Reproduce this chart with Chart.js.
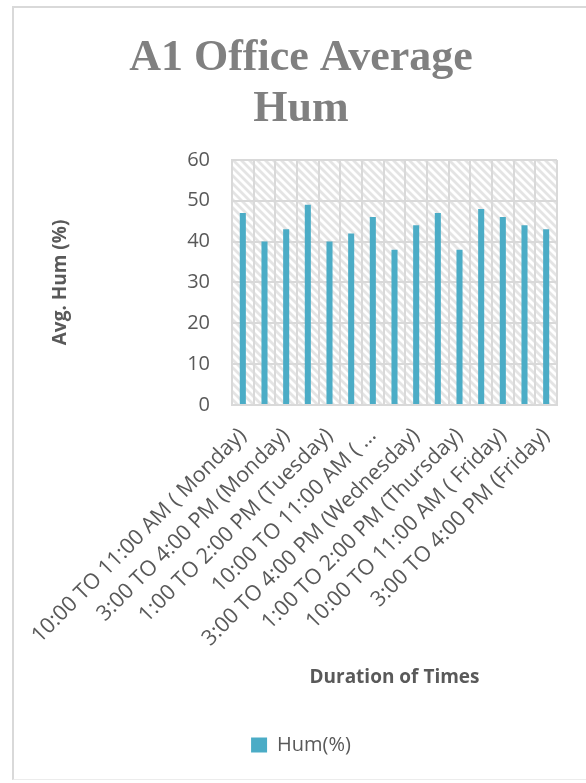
<!DOCTYPE html>
<html>
<head>
<meta charset="utf-8">
<script src="https://cdn.jsdelivr.net/npm/chart.js@4/dist/chart.umd.min.js"></script>
<style>
  html, body { margin: 0; padding: 0; background: #ffffff; overflow: hidden; }
  #frame {
    position: absolute; left: 12px; top: 6px; width: 620px; height: 774px;
    border-left: 2px solid #D9D9D9; border-top: 2px solid #D9D9D9;
    border-bottom: 1px solid #ECECEC; box-sizing: border-box;
  }
  #chart { position: absolute; left: 0; top: 0; }
</style>
</head>
<body>
<div id="frame"></div>
<canvas id="chart" width="586" height="783"></canvas>
<script>
// Time slots over the week (one bar each)
const timeSlots = [
  "10:00 TO 11:00 AM ( Monday)",
  "1:00 TO 2:00 PM (Monday)",
  "3:00 TO 4:00 PM (Monday)",
  "10:00 TO 11:00 AM ( Tuesday)",
  "1:00 TO 2:00 PM (Tuesday)",
  "3:00 TO 4:00 PM (Tuesday)",
  "10:00 TO 11:00 AM ( Wednesday)",
  "1:00 TO 2:00 PM (Wednesday)",
  "3:00 TO 4:00 PM (Wednesday)",
  "10:00 TO 11:00 AM ( Thursday)",
  "1:00 TO 2:00 PM (Thursday)",
  "3:00 TO 4:00 PM (Thursday)",
  "10:00 TO 11:00 AM ( Friday)",
  "1:00 TO 2:00 PM (Friday)",
  "3:00 TO 4:00 PM (Friday)"
];

// Average humidity (%) per slot
const humValues = [47, 40, 43, 49, 40, 42, 46, 38, 44, 47, 38, 48, 46, 44, 43];

// Value axis ticks
const yTicks = [0, 10, 20, 30, 40, 50, 60];

const seriesName = "Hum(%)";
const chartTitle = ["A1 Office Average", "Hum"];
const xTitle = "Duration of Times";
const yTitle = "Avg. Hum (%)";

const BAR = "#4BACC6";
const GRID = "#D9D9D9";
const TEXT = "#595959";

// Light downward-diagonal hatch for the plot area
function makeHatch() {
  const n = 8;
  const c = document.createElement("canvas");
  c.width = n; c.height = n;
  const g = c.getContext("2d");
  const img = g.createImageData(n, n);
  for (let y = 0; y < n; y++) {
    for (let x = 0; x < n; x++) {
      const d = ((x - y) % n + n) % n;
      let v = 255;
      if (d === 0 || d === 1 || d === 2) v = 228;
      else if (d === 3 || d === 7) v = 242;
      const i = (y * n + x) * 4;
      img.data[i] = v; img.data[i + 1] = v; img.data[i + 2] = v; img.data[i + 3] = 255;
    }
  }
  g.putImageData(img, 0, 0);
  return c;
}

const plotBackground = {
  id: "plotBackground",
  beforeDraw(chart) {
    const { ctx, chartArea: a } = chart;
    ctx.save();
    ctx.fillStyle = ctx.createPattern(makeHatch(), "repeat");
    ctx.fillRect(a.left, a.top, a.right - a.left, a.bottom - a.top);
    ctx.restore();
  }
};

new Chart(document.getElementById("chart"), {
  type: "bar",
  data: {
    labels: timeSlots,
    datasets: [{
      label: seriesName,
      data: humValues,
      backgroundColor: BAR,
      borderWidth: 0,
      categoryPercentage: 1,
      barPercentage: 0.28
    }]
  },
  options: {
    responsive: false,
    animation: false,
    events: [],
    layout: { padding: { left: 16, right: 0, top: 34, bottom: 18 } },
    plugins: {
      tooltip: { enabled: false },
      title: {
        display: true,
        text: chartTitle,
        color: "#808080",
        font: { family: "Liberation Serif", size: 44, weight: "bold", lineHeight: 1.14 },
        padding: { top: 0, bottom: 25.6 }
      },
      legend: {
        display: true,
        position: "bottom",
        labels: {
          color: TEXT,
          font: { family: "Open Sans", size: 20 },
          boxWidth: 16,
          boxHeight: 15,
          padding: 10
        }
      }
    },
    scales: {
      x: {
        grid: { display: true, color: GRID, lineWidth: 2, drawTicks: false, offset: true },
        border: { display: true, color: GRID, width: 2 },
        ticks: {
          color: TEXT,
          font: { family: "Open Sans", size: 21.5 },
          autoSkip: false,
          minRotation: 45,
          maxRotation: 45,
          padding: 18,
          callback(value, index) {
            if (index % 2) return "";
            const t = this.getLabelForValue(value);
            return t.length > 28 ? t.slice(0, 20) + "…" : t;
          }
        },
        title: {
          display: true,
          text: xTitle,
          color: TEXT,
          font: { family: "Open Sans", size: 19, weight: "bold", lineHeight: 1.2 },
          padding: { top: 0, bottom: 36 }
        },
        afterFit(scale) { scale.height = 320; }
      },
      y: {
        min: 0,
        max: 60,
        afterBuildTicks(scale) { scale.ticks = yTicks.map(v => ({ value: v })); },
        grid: { color: GRID, lineWidth: 2, drawTicks: false },
        border: { display: true, color: GRID, width: 2 },
        ticks: {
          color: TEXT,
          font: { family: "Open Sans", size: 20 },
          padding: 22
        },
        title: {
          display: true,
          text: yTitle,
          color: TEXT,
          font: { family: "Open Sans", size: 19, weight: "bold", lineHeight: 1.2 },
          padding: { top: 33.6, bottom: 0 }
        },
        afterFit(scale) { scale.width = 216; }
      },
      spacer: {
        type: "linear",
        position: "right",
        display: true,
        grid: { display: false },
        border: { display: false },
        ticks: { display: false },
        afterFit(scale) { scale.width = 29; }
      }
    }
  },
  plugins: [plotBackground]
});
</script>
</body>
</html>
